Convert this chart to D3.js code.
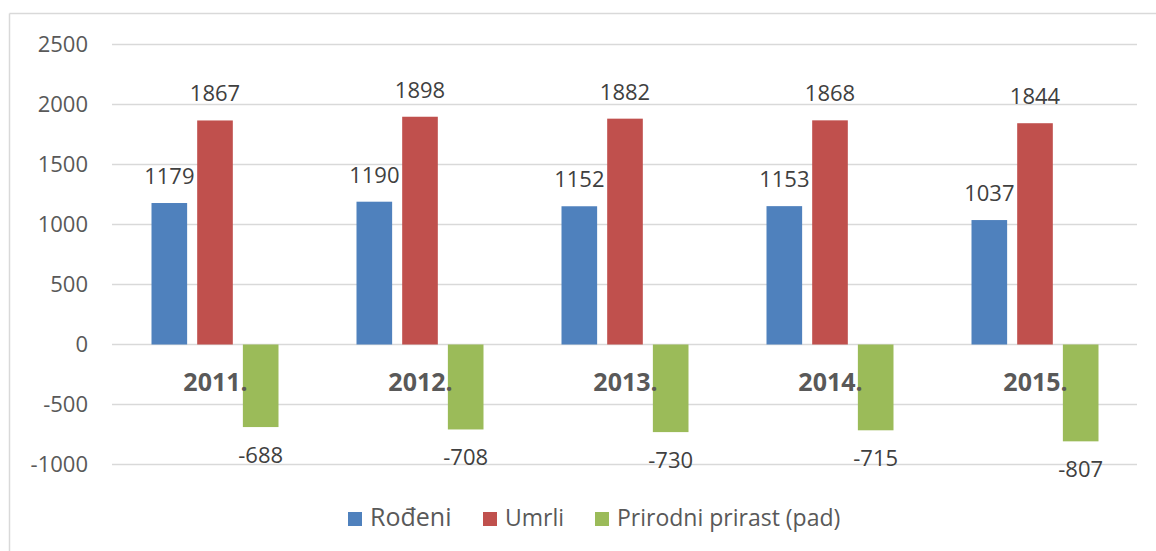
<!DOCTYPE html>
<html>
<head>
<meta charset="utf-8">
<script src="https://cdn.jsdelivr.net/npm/d3@7/dist/d3.min.js"></script>
<style>
  body { margin: 0; background: #fff; }
  svg { display: block; font-family: "Open Sans", "Liberation Sans", sans-serif; }
</style>
</head>
<body>
<svg width="1156" height="551"></svg>
<script>
// data
const years = ["2011.", "2012.", "2013.", "2014.", "2015."];
const series = ["Rođeni", "Umrli", "Prirodni prirast (pad)"];
const rodjeni = [1179, 1190, 1152, 1153, 1037];
const umrli = [1867, 1898, 1882, 1868, 1844];
const prirast = [-688, -708, -730, -715, -807];
const yTicks = [2500, 2000, 1500, 1000, 500, 0, -500, -1000];
const colors = ["#4F81BD", "#C0504D", "#9BBB59"];

const values = [rodjeni, umrli, prirast];
const rows = years.map((yr, i) => ({
  year: yr,
  vals: series.map((s, k) => ({ key: s, k: k, v: values[k][i] }))
}));

const svg = d3.select("svg");

// light frame (top and left edges)
svg.append("line").attr("x1", 9.5).attr("x2", 1156).attr("y1", 13.5).attr("y2", 13.5)
  .attr("stroke", "#d9d9d9").attr("stroke-width", 1.5);
svg.append("line").attr("x1", 9.5).attr("x2", 9.5).attr("y1", 13.5).attr("y2", 551)
  .attr("stroke", "#d9d9d9").attr("stroke-width", 1.5);

const x0 = d3.scaleBand().domain(years).range([112, 1137]);
const half = x0.bandwidth() / 2;
const x1 = d3.scaleBand().domain(series).range([half - 63, half + 64]).paddingInner(0.22);
const y = d3.scaleLinear().domain([-1000, 2500]).range([464.5, 44.5]);

// gridlines
svg.append("g").selectAll("line").data(yTicks).join("line")
  .attr("x1", 112).attr("x2", 1137)
  .attr("y1", d => y(d)).attr("y2", d => y(d))
  .attr("stroke", "#d9d9d9").attr("stroke-width", 1.5);

// y axis labels
const yAxis = svg.append("g").attr("transform", "translate(88,0)")
  .call(d3.axisLeft(y).tickValues(yTicks).tickSize(0).tickPadding(0)
    .tickFormat(d => String(d)));
yAxis.select(".domain").remove();
yAxis.selectAll("text").attr("font-size", 22).attr("fill", "#595959")
  .attr("font-family", "'Open Sans', sans-serif");

// bars
const groups = svg.append("g").selectAll("g").data(rows).join("g")
  .attr("transform", d => "translate(" + x0(d.year) + ",0)");

groups.selectAll("rect").data(d => d.vals).join("rect")
  .attr("x", d => x1(d.key))
  .attr("width", x1.bandwidth())
  .attr("y", d => y(Math.max(0, d.v)))
  .attr("height", d => Math.abs(y(d.v) - y(0)))
  .attr("fill", d => colors[d.k]);

// value labels
groups.selectAll("text.val").data(d => d.vals).join("text")
  .attr("class", "val")
  .attr("x", d => x1(d.key) + x1.bandwidth() / 2)
  .attr("y", d => d.v >= 0 ? y(d.v) - 19 : y(d.v) + 36)
  .attr("text-anchor", "middle")
  .attr("font-size", 22)
  .attr("fill", "#404040")
  .text(d => d.v);

// category labels (drawn over the zero line)
svg.append("g").selectAll("text").data(years).join("text")
  .attr("x", d => x0(d) + half + 1)
  .attr("y", y(0) + 46)
  .attr("text-anchor", "middle")
  .attr("font-size", 25)
  .attr("font-weight", "bold")
  .attr("fill", "#595959")
  .text(d => d);

// legend
const legendX = [348, 483, 595];
const legendSize = [25, 23, 23];
const legend = svg.append("g").selectAll("g").data(series).join("g")
  .attr("transform", (d, i) => "translate(" + legendX[i] + ",512)");
legend.append("rect").attr("width", 14).attr("height", 14)
  .attr("fill", (d, i) => colors[i]);
legend.append("text")
  .attr("x", 22).attr("y", 14)
  .attr("font-size", (d, i) => legendSize[i])
  .attr("fill", "#595959")
  .text(d => d);
</script>
</body>
</html>
